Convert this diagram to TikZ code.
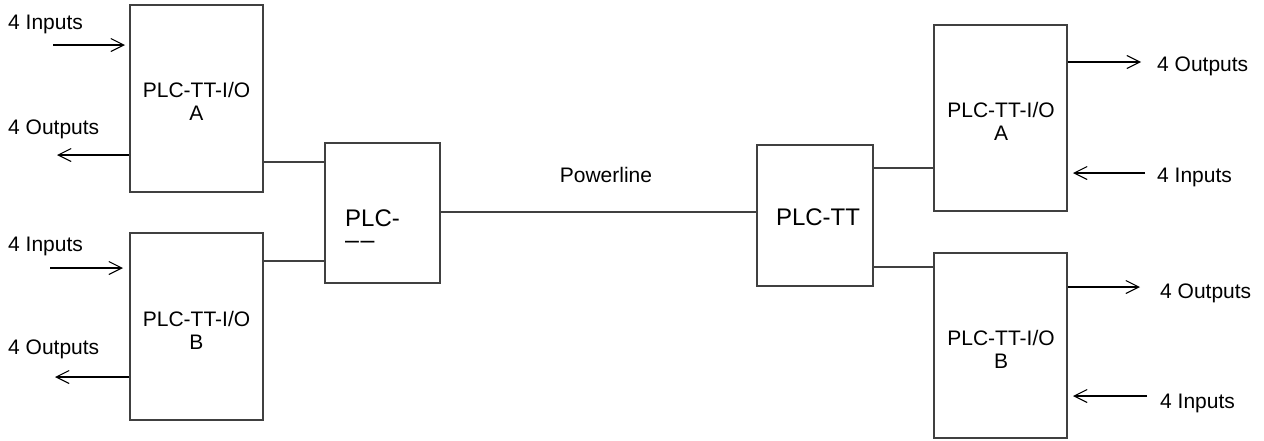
\documentclass[tikz,border=0pt]{standalone}
\usepackage{fontspec}
\setmainfont{Liberation Sans}
\usetikzlibrary{arrows.meta}
\definecolor{linegray}{HTML}{404040}
\begin{document}
\begin{tikzpicture}[x=1pt,y=-1pt,
  box/.style={draw=linegray, line width=1.2pt, minimum width=133pt, minimum height=187pt, inner sep=0pt},
  txt/.style={inner sep=0pt, align=center, font=\fontsize{21}{23}\selectfont},
  bigtxt/.style={inner sep=0pt, font=\fontsize{24}{21.5}\selectfont},
  lbl/.style={inner sep=0pt, anchor=base west, font=\fontsize{21}{23}\selectfont},
  conn/.style={draw=linegray, line width=1.2pt},
  arr/.style={draw=black, line width=1.1pt, -{Straight Barb[length=13pt,width=13pt,line width=1.1pt]}}]
\useasboundingbox (0,0) rectangle (1264,440);

% boxes
\node[box] (lA) at (196.5,98.5) {};
\node[box] (lB) at (196.5,326.5) {};
\node[box, minimum width=115pt, minimum height=140pt] (mid) at (382.5,213) {};
\node[box, minimum width=116pt, minimum height=141pt] (tt) at (815,215.5) {};
\node[box, minimum height=186pt] (rA) at (1000.5,118) {};
\node[box, minimum height=185pt] (rB) at (1000.5,345.5) {};

% box texts
\node[txt] (lAt) at (196.5,101) {PLC-TT-I/O\\A};
\node[txt] (lBt) at (196.5,330) {PLC-TT-I/O\\B};
\node[txt] (rAt) at (1001,121.5) {PLC-TT-I/O\\A};
\node[txt] (rBt) at (1001,349.5) {PLC-TT-I/O\\B};
\node[bigtxt, anchor=west, align=left] (midt) at (345,229) {PLC-\\{\fontsize{25}{21.5}\selectfont –\kern1.5pt–}};
\node[bigtxt] (ttt) at (818,217.5) {PLC-TT};
\node[lbl, anchor=base] (pl) at (606,182) {Powerline};

% connectors
\draw[conn] (lA.east |- 0,162) -- (mid.west |- 0,162);
\draw[conn] (lB.east |- 0,261) -- (mid.west |- 0,261);
\draw[conn] (mid.east |- 0,212) -- (tt.west |- 0,212);
\draw[conn] (tt.east |- 0,168) -- (rA.west |- 0,168);
\draw[conn] (tt.east |- 0,267) -- (rB.west |- 0,267);

% free ends of the I/O arrows
\coordinate (lAinS) at (53,45);   \coordinate (lAinE) at (125,45);
\coordinate (lAout) at (57,155);
\coordinate (lBinS) at (50,268);  \coordinate (lBinE) at (123,268);
\coordinate (lBout) at (55,377);
\coordinate (rAout) at (1141,62);
\coordinate (rAinS) at (1145,173); \coordinate (rAinE) at (1073,173);
\coordinate (rBout) at (1140,287);
\coordinate (rBinS) at (1147,396); \coordinate (rBinE) at (1073,396);

\draw[arr] (lAinS) -- (lAinE);
\draw[arr] (lA.west |- 0,155) -- (lAout);
\draw[arr] (lBinS) -- (lBinE);
\draw[arr] (lB.west |- 0,377) -- (lBout);
\draw[arr] (rA.east |- 0,62) -- (rAout);
\draw[arr] (rAinS) -- (rAinE);
\draw[arr] (rB.east |- 0,287) -- (rBout);
\draw[arr] (rBinS) -- (rBinE);

% I/O labels
\node[lbl] (l1) at (8,29.5) {4 Inputs};
\node[lbl] (l2) at (8,134) {4 Outputs};
\node[lbl] (l3) at (8,251) {4 Inputs};
\node[lbl] (l4) at (8,354) {4 Outputs};
\node[lbl] (r1) at (1157,71) {4 Outputs};
\node[lbl] (r2) at (1157,182) {4 Inputs};
\node[lbl] (r3) at (1160,298) {4 Outputs};
\node[lbl] (r4) at (1160,408) {4 Inputs};
\end{tikzpicture}
\end{document}
